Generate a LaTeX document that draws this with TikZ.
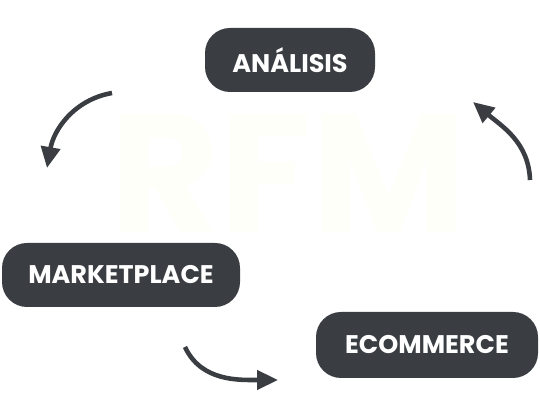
\documentclass[tikz,border=0pt]{standalone}
\usepackage{fontspec}
\setmainfont{Poppins}
\usepackage{tikz}
\usetikzlibrary{arrows.meta}
\definecolor{boxgray}{RGB}{58,61,66}
\definecolor{ivory}{RGB}{255,255,249}

\begin{document}
\begin{tikzpicture}[
       pill/.style={fill=boxgray, rounded corners=0.5cm, text=white,
                    font=\bfseries\fontsize{14.5}{17}\selectfont,
                    minimum height=1.28cm, inner sep=0pt},
       turn/.style={draw=boxgray, line width=2.6pt,
                    -{Triangle[length=0.42cm,width=0.38cm]}}]
       \useasboundingbox (0,0) rectangle (10.8,8.24);
       \node[text=ivory, inner sep=0pt, font=\bfseries\fontsize{96}{96}\selectfont] (rfm) at (5.76,4.78) {RFM};
       \node[pill, minimum width=3.4cm ] (analisis) at (5.80,7.04) {ANÁLISIS};
       \node[pill, minimum width=4.76cm] (market)   at (2.42,2.74) {MARKETPLACE};
       \node[pill, minimum width=4.44cm, minimum height=1.32cm] (ecom) at (8.54,1.34) {ECOMMERCE};
       \coordinate (a1) at (2.24,6.38);
       \coordinate (a2) at (0.94,4.88);
       \coordinate (b1) at (10.60,4.64);
       \coordinate (b2) at (9.46,6.20);
       \coordinate (c1) at (3.70,1.30);
       \coordinate (c2) at (5.56,0.64);
       \draw[turn] (a1) to[out=190,in=80] (a2);
       \draw[turn] (b1) to[out=92,in=-40] (b2);
       \draw[turn] (c1) to[out=-65,in=180] (c2);
      \end{tikzpicture}
\end{document}
